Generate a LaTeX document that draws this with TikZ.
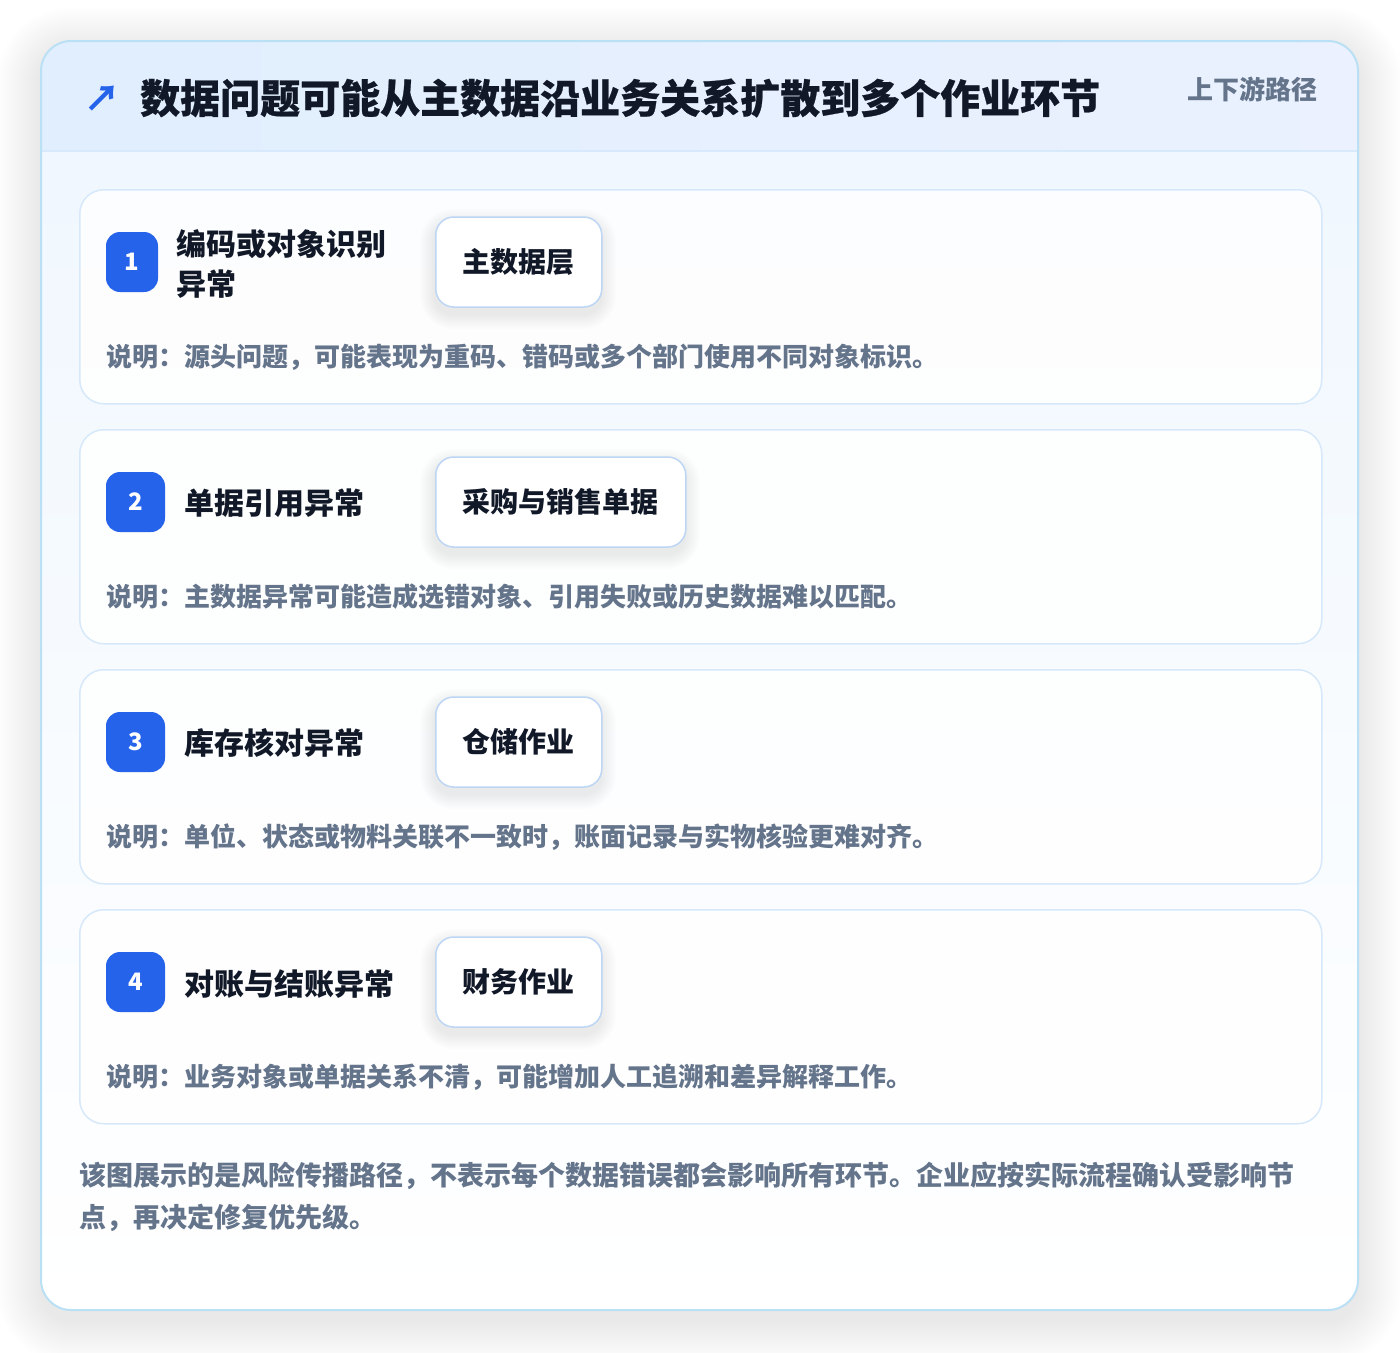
\documentclass[tikz,border=0pt]{standalone}
\usepackage{fontspec}
\setmainfont{Noto Sans CJK SC}
\newfontfamily\heavyfont{Noto Sans CJK SC}[BoldFeatures={FakeBold=0.6}]
\definecolor{outline}{HTML}{BAE0F5}
\definecolor{headA}{HTML}{E0EEFD}
\definecolor{headB}{HTML}{EBF1FE}
\definecolor{headline}{HTML}{D8E9FB}
\definecolor{bodyA}{HTML}{F0F7FE}
\definecolor{cardline}{HTML}{D6E8FA}
\definecolor{tagline}{HTML}{BCD6F4}
\definecolor{accent}{HTML}{2563EB}
\definecolor{ink}{HTML}{111827}
\definecolor{muted}{HTML}{64748B}
% soft shadow: x1 y1 x2 y2 radius steps stepsize opacity dy
\newcommand\softshade[9]{%
  \foreach \i in {1,...,#6}{%
    \fill[black, opacity=#8, rounded corners={(#5+\i*#7)*1pt}]
      ({#1-\i*#7},{#2-\i*#7+#9}) rectangle ({#3+\i*#7},{#4+\i*#7+#9});
  }%
}
\tikzset{
  fs/.style={font=\fontsize{#1}{#1}\selectfont\bfseries},
  cardbox/.style={anchor=north west, minimum width=1242, minimum height=214, inner sep=0,
    rounded corners=24, draw=cardline, line width=1.5, fill=white, fill opacity=0.85},
  badge/.style={minimum height=60, minimum width=#1, inner sep=0, rounded corners=14,
    fill=accent, text=white, fs=24},
  steptitle/.style={anchor=west, inner sep=0, text=ink, fs=30, align=left},
  tagbox/.style={anchor=west, minimum height=90, inner xsep=27, inner ysep=0, rounded corners=18,
    draw=tagline, line width=1.5, fill=white, text=ink, fs=28},
  desc/.style={anchor=west, inner sep=0, text=muted, fs=26},
}
\begin{document}
\begin{tikzpicture}[x=1pt,y=-1pt]
\useasboundingbox (0,0) rectangle (1400,1352);
\fill[white] (0,0) rectangle (1400,1352);
% outer card shadow
\softshade{41}{41}{1358}{1310}{30}{22}{2}{0.0035}{10}
\begin{scope}
\clip[rounded corners=30] (41,41) rectangle (1358,1310);
\shade[top color=bodyA, bottom color=white] (41,151) rectangle (1358,1310);
\shade[left color=headA, right color=headB] (41,41) rectangle (1358,151);
\draw[line width=1.5, headline] (41,151) -- (1358,151);
\end{scope}
\draw[line width=2, outline, rounded corners=30] (41,41) rectangle (1358,1310);

% header
\node[text=accent, inner sep=0, font=\fontsize{36}{36}\selectfont\bfseries] (icon) at (102,99) {↗};
\node[anchor=west, inner sep=0, text=ink, font=\heavyfont\fontsize{40}{40}\selectfont\bfseries] (title) at (140,98) {数据问题可能从主数据沿业务关系扩散到多个作业环节};
\node[anchor=east, inner sep=0, text=muted, fs=26] (badgeR) at (1318,89) {上下游路径};

% cards
\node[cardbox] (c1) at (79,189) {};
\node[cardbox] (c2) at (79,429) {};
\node[cardbox] (c3) at (79,669) {};
\node[cardbox] (c4) at (79,909) {};

\node[badge=52] (n1) at (132,262) {1};
\node[badge=59] (n2) at (135.5,502) {2};
\node[badge=59] (n3) at (135.5,742) {3};
\node[badge=59] (n4) at (135.5,982) {4};

\node[steptitle, font=\fontsize{30}{40}\selectfont\bfseries] (t1) at (176,264) {编码或对象识别\\异常};
\node[steptitle] (t2) at (184,503) {单据引用异常};
\node[steptitle] (t3) at (184,743) {库存核对异常};
\node[steptitle] (t4) at (184,984) {对账与结账异常};

% tag shadows
\softshade{435}{217}{601}{307}{18}{10}{1.5}{0.006}{7}
\softshade{435}{457}{685}{547}{18}{10}{1.5}{0.006}{7}
\softshade{435}{697}{601}{787}{18}{10}{1.5}{0.006}{7}
\softshade{435}{937}{601}{1027}{18}{10}{1.5}{0.006}{7}

\node[tagbox] (g1) at (435,262) {主数据层};
\node[tagbox] (g2) at (435,502) {采购与销售单据};
\node[tagbox] (g3) at (435,742) {仓储作业};
\node[tagbox] (g4) at (435,982) {财务作业};

\node[desc] (d1) at (106,357) {说明：源头问题，可能表现为重码、错码或多个部门使用不同对象标识。};
\node[desc] (d2) at (106,597) {说明：主数据异常可能造成选错对象、引用失败或历史数据难以匹配。};
\node[desc] (d3) at (106,837) {说明：单位、状态或物料关联不一致时，账面记录与实物核验更难对齐。};
\node[desc] (d4) at (106,1077) {说明：业务对象或单据关系不清，可能增加人工追溯和差异解释工作。};

\node[anchor=north west, inner sep=0, text=muted, align=left, font=\fontsize{27}{42}\selectfont\bfseries] (foot) at (79,1162)
  {该图展示的是风险传播路径，不表示每个数据错误都会影响所有环节。企业应按实际流程确认受影响节\\点，再决定修复优先级。};
\end{tikzpicture}
\end{document}
